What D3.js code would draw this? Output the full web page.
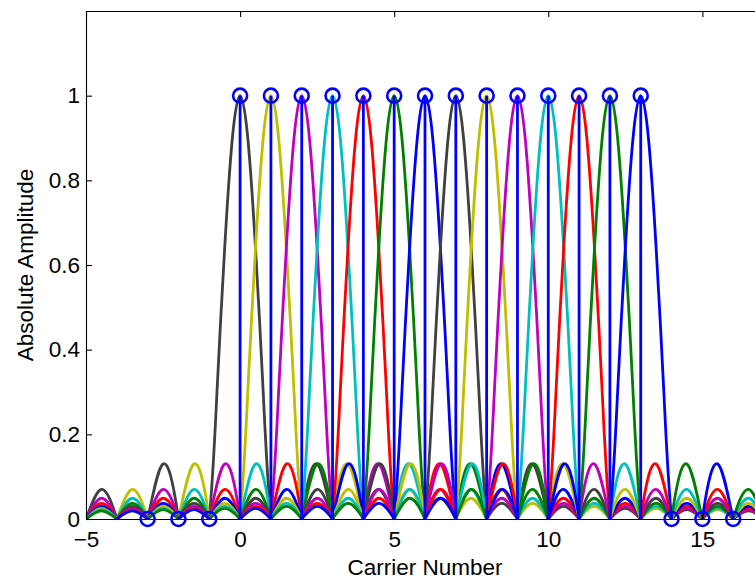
<!DOCTYPE html>
<html>
<head>
<meta charset="utf-8">
<script src="https://cdn.jsdelivr.net/npm/d3@7"></script>
<style>
  html, body { margin: 0; padding: 0; background: #fff; }
  svg { display: block; font-family: "Liberation Sans", Arial, sans-serif; }
</style>
</head>
<body>
<svg id="chart" width="755" height="579"></svg>
<script>
// carriers and their line colours (MATLAB colour order, reversed)
const carriers = [0, 1, 2, 3, 4, 5, 6, 7, 8, 9, 10, 11, 12, 13];
const carrierColors = [
  "#404040", "#bfbf00", "#bf00bf", "#00bfbf", "#ff0000", "#008000", "#0000ff",
  "#404040", "#bfbf00", "#bf00bf", "#00bfbf", "#ff0000", "#008000", "#0000ff"
];

// main lobe shape (offset from carrier -> amplitude)
const mainLobeOffsets = [0, 0.25, 0.5, 0.75, 1];
const mainLobeValues = [1, 0.9, 0.64, 0.3, 0];
// peak of each side lobe n (centred at offset n + 0.5), negative ones fall below the axis
const sideLobePeaks = [-0.21, 0.13, -0.09, 0.07, -0.058, 0.049, -0.042, 0.037, -0.033,
  0.03, -0.027, 0.025, -0.023, 0.022, -0.02, 0.019, -0.018, 0.017];

// stem markers
const stemX = [-3, -2, -1, 0, 1, 2, 3, 4, 5, 6, 7, 8, 9, 10, 11, 12, 13, 14, 15, 16];
const stemY = [0, 0, 0, 1, 1, 1, 1, 1, 1, 1, 1, 1, 1, 1, 1, 1, 1, 0, 0, 0];

const xTicks = [-5, 0, 5, 10, 15];
const yTicks = [0, 0.2, 0.4, 0.6, 0.8, 1];

const svg = d3.select("#chart");
const plotLeft = 86, plotRight = 764, plotTop = 11, plotBottom = 519;
const fontSize = 22.5;

const x = d3.scaleLinear().domain([-5, 17]).range([plotLeft, plotRight]);
const y = d3.scaleLinear().domain([0, 1.2]).range([plotBottom, plotTop]);

svg.append("defs").append("clipPath").attr("id", "plot-clip")
  .append("rect")
  .attr("x", plotLeft).attr("y", plotTop)
  .attr("width", plotRight - plotLeft).attr("height", plotBottom - plotTop);

function lobeProfile() {
  const pts = mainLobeOffsets.map((o, i) => [o, mainLobeValues[i]]);
  sideLobePeaks.forEach((p, n) => {
    const c = n + 1.5;
    pts.push([c, p], [c + 0.5, 0]);
  });
  const mirrored = pts.filter((p) => p[0] > 0).map((p) => [-p[0], p[1]]).reverse();
  return mirrored.concat(pts);
}
const profile = lobeProfile();

const line = d3.line()
  .x((d) => x(d[0]))
  .y((d) => y(d[1]))
  .curve(d3.curveNatural);

svg.append("g")
  .attr("clip-path", "url(#plot-clip)")
  .selectAll("path")
  .data(carriers)
  .join("path")
  .attr("fill", "none")
  .attr("stroke", (d, i) => carrierColors[i])
  .attr("stroke-width", 2.8)
  .attr("stroke-linejoin", "round")
  .attr("d", (k) => line(profile.map(([o, v]) => [k + o, v])));

// axes (box on, ticks pointing inward)
const fmt = d3.format("~g");

const xAxis = svg.append("g")
  .attr("transform", `translate(0,${plotBottom})`)
  .call(d3.axisBottom(x).tickValues(xTicks).tickFormat(fmt)
    .tickSizeInner(-6).tickSizeOuter(0).tickPadding(12));

const xTop = svg.append("g")
  .attr("transform", `translate(0,${plotTop})`)
  .call(d3.axisTop(x).tickValues(xTicks).tickFormat("")
    .tickSizeInner(-6).tickSizeOuter(0));

const yAxis = svg.append("g")
  .attr("transform", `translate(${plotLeft},0)`)
  .call(d3.axisLeft(y).tickValues(yTicks).tickFormat(fmt)
    .tickSizeInner(-6).tickSizeOuter(0).tickPadding(6));

[xAxis, xTop, yAxis].forEach((g) => {
  g.attr("color", "#000");
  g.selectAll("path, line").attr("stroke-width", 1.1);
  g.selectAll("text").attr("font-size", fontSize).attr("font-family", "Liberation Sans, Arial, sans-serif");
});

// stems with circle markers
const stems = stemX.map((v, i) => ({ x: v, y: stemY[i] }));

svg.append("g")
  .selectAll("line")
  .data(stems.filter((d) => d.y > 0))
  .join("line")
  .attr("x1", (d) => x(d.x)).attr("x2", (d) => x(d.x))
  .attr("y1", y(0)).attr("y2", (d) => y(d.y))
  .attr("stroke", "#0000ff")
  .attr("stroke-width", 2.8);

svg.append("g")
  .selectAll("circle")
  .data(stems)
  .join("circle")
  .attr("cx", (d) => x(d.x))
  .attr("cy", (d) => y(d.y))
  .attr("r", 7)
  .attr("fill", "none")
  .attr("stroke", "#0000ff")
  .attr("stroke-width", 2.6);

// axis titles
svg.append("text")
  .attr("x", (plotLeft + plotRight) / 2)
  .attr("y", 575)
  .attr("text-anchor", "middle")
  .attr("font-size", fontSize)
  .text("Carrier Number");

svg.append("text")
  .attr("transform", `translate(33,${(plotTop + plotBottom) / 2}) rotate(-90)`)
  .attr("text-anchor", "middle")
  .attr("font-size", fontSize)
  .text("Absolute Amplitude");
</script>
</body>
</html>
